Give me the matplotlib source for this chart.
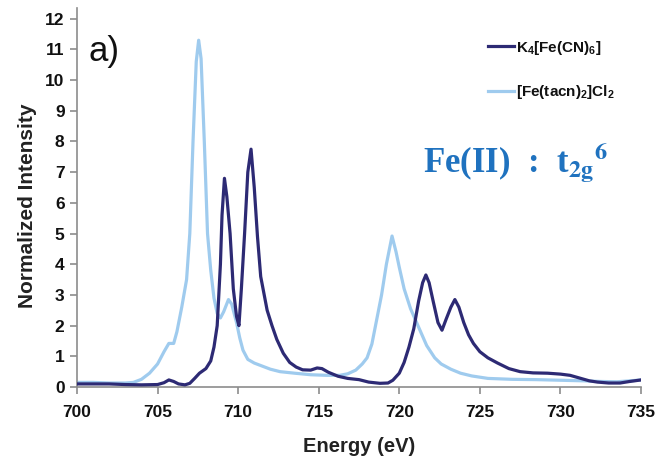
import matplotlib
matplotlib.use("Agg")
import matplotlib.pyplot as plt

# ---- data ----
light_x = [700, 701, 702, 703, 703.5, 704, 704.5, 705, 705.4, 705.7, 706.0, 706.2, 706.5, 706.8,
           707.0, 707.2, 707.4, 707.55, 707.7, 707.9, 708.1, 708.3, 708.5, 708.7, 708.9, 709.1,
           709.4, 709.6, 709.9, 710.1, 710.3, 710.6, 711.0, 711.5, 712, 712.6, 713.5, 714.5,
           715.5, 716.3, 716.8, 717.3, 717.7, 718.0, 718.3, 718.6, 718.9, 719.2, 719.55, 719.8,
           720.0, 720.3, 720.7, 721.2, 721.7, 722.2, 722.6, 723.2, 723.8, 724.5, 725.5, 727,
           728.5, 730, 731.5, 732.5, 733.5, 734.3, 735]
light_y = [0.15, 0.15, 0.13, 0.13, 0.15, 0.25, 0.45, 0.75, 1.15, 1.42, 1.42, 1.8, 2.6, 3.5,
           5.0, 8.0, 10.6, 11.3, 10.7, 8.0, 5.0, 3.8, 2.9, 2.4, 2.25, 2.45,
           2.85, 2.7, 2.1, 1.6, 1.2, 0.9, 0.78, 0.68, 0.58, 0.5, 0.45, 0.4,
           0.38, 0.38, 0.43, 0.55, 0.75, 0.95, 1.4, 2.2, 3.0, 4.0, 4.92, 4.4,
           3.9, 3.2, 2.55, 1.95, 1.35, 0.95, 0.75, 0.58, 0.45, 0.36, 0.28, 0.25,
           0.24, 0.22, 0.2, 0.18, 0.17, 0.2, 0.23]

dark_x = [700, 701, 702, 703, 704, 705, 705.4, 705.7, 706.0, 706.3, 706.7, 707.0, 707.3, 707.6,
          708.0, 708.3, 708.5, 708.7, 708.9, 709.0, 709.15, 709.3, 709.5, 709.7, 709.9, 710.05,
          710.2, 710.4, 710.6, 710.8, 711.0, 711.2, 711.4, 711.8, 712.1, 712.4, 712.8, 713.2,
          713.6, 714.0, 714.5, 714.9, 715.2, 715.6, 716.2, 716.8, 717.5, 718.1, 718.8, 719.3,
          719.6, 720.0, 720.3, 720.6, 720.9, 721.2, 721.45, 721.65, 721.85, 722.1, 722.4, 722.65,
          722.9, 723.2, 723.45, 723.7, 724.0, 724.3, 724.6, 725.0, 725.5, 726.1, 726.8, 727.5,
          728.3, 729.2, 730, 730.6, 731.2, 731.8, 732.3, 733, 733.7, 734.3, 735]
dark_y = [0.1, 0.1, 0.1, 0.08, 0.07, 0.08, 0.14, 0.23, 0.18, 0.1, 0.07, 0.12, 0.28, 0.45,
          0.6, 0.85, 1.3, 2.0, 4.0, 5.6, 6.8, 6.2, 5.0, 3.2, 2.3, 2.0,
          3.2, 5.0, 7.0, 7.75, 6.5, 4.9, 3.6, 2.5, 2.0, 1.55, 1.1, 0.8,
          0.65, 0.56, 0.55, 0.62, 0.6, 0.48, 0.35, 0.28, 0.24, 0.16, 0.12, 0.13,
          0.22, 0.45, 0.8, 1.3, 1.9, 2.8, 3.4, 3.65, 3.4, 2.8, 2.1, 1.85,
          2.2, 2.6, 2.85, 2.6, 2.1, 1.7, 1.42, 1.15, 0.95, 0.78, 0.6, 0.5,
          0.46, 0.45, 0.42, 0.38, 0.29, 0.2, 0.16, 0.13, 0.13, 0.18, 0.23]

x_ticks = [700, 705, 710, 715, 720, 725, 730, 735]
y_ticks = list(range(0, 13))
dark_label = r"K$_4$[Fe(CN)$_6$]"
light_label = r"[Fe(tacn)$_2$]Cl$_2$"

dark_color = "#2d2a74"
light_color = "#9fcbee"

plt.rcParams['font.family'] = ['Liberation Sans', 'DejaVu Sans']
plt.rcParams['mathtext.fontset'] = 'custom'
plt.rcParams['mathtext.rm'] = 'Liberation Sans:bold'
plt.rcParams['mathtext.it'] = 'Liberation Sans:bold'
plt.rcParams['mathtext.bf'] = 'Liberation Sans:bold'

fig = plt.figure(figsize=(6.58, 4.57), dpi=100)
ax = fig.add_axes([77/658, 1-387/457, (641-77)/658, (387-8)/457])

ax.plot(light_x, light_y, color=light_color, lw=2.3, label=light_label, zorder=2,
        solid_joinstyle='round')
ax.plot(dark_x, dark_y, color=dark_color, lw=2.3, label=dark_label, zorder=3,
        solid_joinstyle='round')

ax.set_xlim(700, 735)
ax.set_ylim(0, 12.35)
ax.set_xticks(x_ticks)
ax.set_yticks(y_ticks)
for s in ['top', 'right']:
    ax.spines[s].set_visible(False)
for s in ['left', 'bottom']:
    ax.spines[s].set_color('#8c8c8c')
    ax.spines[s].set_linewidth(1.2)
ax.tick_params(axis='both', colors='#8c8c8c', length=5, width=1.2, direction='out',
               labelcolor='#111111', labelsize=12.5)
for lab in ax.get_xticklabels() + ax.get_yticklabels():
    lab.set_fontweight('bold')
ax.tick_params(axis='x', pad=8)
ax.tick_params(axis='y', pad=4)

ax.set_xlabel("Energy (eV)", fontsize=14.5, fontweight='bold', color='#222222', labelpad=12)
ax.set_ylabel("Normalized Intensity", fontsize=15, fontweight='bold', color='#222222', labelpad=6)
ax.yaxis.label.set_position((0, (387-206)/379))

handles, labels = ax.get_legend_handles_labels()
leg = ax.legend([handles[1], handles[0]], [labels[1], labels[0]],
                loc='upper left', bbox_to_anchor=((474-77)/564, 1.0 - (25-8)/379),
                frameon=False, fontsize=11, handlelength=1.7, handletextpad=0.15,
                labelspacing=1.75)
for t in leg.get_texts():
    t.set_fontweight('bold')
    t.set_color('#111111')

fig.text(89/658, 1-52/457, "a)", fontsize=25, color='#111111', va='center', ha='left')

fig.text(423/658, 1-163/457, r"Fe(II)  :  t$_{\mathbf{2g}}$$^{\mathbf{6}}$", fontsize=25,
         fontweight='bold', color='#1f72bf', family=['Liberation Serif'],
         math_fontfamily='stix', va='center', ha='left')

fig.savefig("out.png", dpi=100)
